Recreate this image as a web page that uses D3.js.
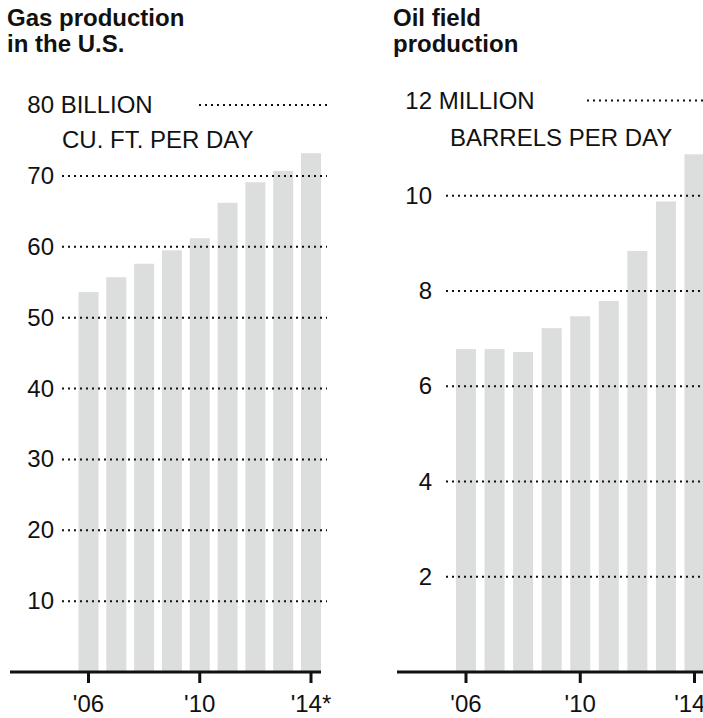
<!DOCTYPE html>
<html lang="en">
<head>
  <meta charset="UTF-8">
  <title>Gas and oil production</title>
  <style>
    body, html {
      margin: 0;
      padding: 0;
      background-color: white;
    }
    svg text {
      font-family: "Liberation Sans", Arial, Helvetica, sans-serif;
      fill: #111;
    }
  </style>
</head>
<body>
  <svg id="svg" width="703" height="718"></svg>
  <script src="https://d3js.org/d3.v7.min.js"></script>
  <script>
    // years shown as bars
    const years = [2006, 2007, 2008, 2009, 2010, 2011, 2012, 2013, 2014]
    const xTickYears = [2006, 2010, 2014]
    const xTickLabels = ["'06", "'10", "'14*"]

    // gas, billion cu. ft. per day
    const gasValues = [53.6, 55.7, 57.6, 59.5, 61.2, 66.2, 69.1, 70.7, 73.2]
    const gasTicks = [10, 20, 30, 40, 50, 60, 70, 80]

    // oil, million barrels per day
    const oilValues = [6.78, 6.78, 6.72, 7.22, 7.47, 7.79, 8.84, 9.88, 10.87]
    const oilTicks = [2, 4, 6, 8, 10, 12]

    const svg = d3.select('#svg')

    const drawPanel = (p) => {
      const g = svg.append('g')

      const x = d3.scaleLinear().domain([2006, 2014]).range(p.xRange)
      const y = d3.scaleLinear().domain([0, p.yMax]).range([672, p.yTop])

      // title, two lines
      g.append('text')
        .attr('x', p.titleX)
        .attr('y', 26)
        .style('font-weight', 'bold')
        .style('font-size', '24px')
        .selectAll('tspan')
        .data(p.title)
        .enter()
        .append('tspan')
        .attr('x', p.titleX)
        .attr('dy', (d, i) => i === 0 ? 0 : 26)
        .text(d => d)

      // bars
      g.selectAll('rect')
        .data(p.values)
        .enter()
        .append('rect')
        .attr('x', (d, i) => x(years[i]) - 10)
        .attr('width', 20)
        .attr('y', d => y(d))
        .attr('height', d => y(0) - y(d))
        .attr('fill', '#dcdddd')

      // dotted gridlines (on top of bars)
      const top = p.ticks[p.ticks.length - 1]
      g.selectAll('line.grid')
        .data(p.ticks)
        .enter()
        .append('line')
        .attr('class', 'grid')
        .attr('x1', d => d === top ? p.topGridStart : p.gridStart)
        .attr('x2', p.gridEnd)
        .attr('y1', d => y(d))
        .attr('y2', d => y(d))
        .attr('stroke', '#111')
        .attr('stroke-width', 2)
        .attr('stroke-dasharray', '2,4')

      // tick labels
      g.selectAll('text.tick')
        .data(p.ticks)
        .enter()
        .append('text')
        .attr('class', 'tick')
        .attr('x', p.labelRight)
        .attr('y', d => y(d) + 8)
        .attr('text-anchor', 'end')
        .style('font-size', '24px')
        .text(d => d)

      // top number gets the unit word after it
      const topLabel = g.selectAll('text.tick').filter(d => d === top)
      const w = topLabel.node().getComputedTextLength()
      topLabel.attr('text-anchor', 'start')
        .attr('x', p.labelRight - w)
        .text(top + ' ' + p.unit1)

      g.append('text')
        .attr('x', p.unit2X)
        .attr('y', p.unit2Y)
        .style('font-size', '24px')
        .text(p.unit2)

      // baseline
      g.append('line')
        .attr('x1', p.axisStart)
        .attr('x2', p.axisEnd)
        .attr('y1', 672)
        .attr('y2', 672)
        .attr('stroke', '#111')
        .attr('stroke-width', 3)

      g.selectAll('line.xtick')
        .data(xTickYears)
        .enter()
        .append('line')
        .attr('class', 'xtick')
        .attr('x1', d => x(d))
        .attr('x2', d => x(d))
        .attr('y1', 672)
        .attr('y2', 683)
        .attr('stroke', '#111')
        .attr('stroke-width', 3)

      g.selectAll('text.xlabel')
        .data(xTickYears)
        .enter()
        .append('text')
        .attr('class', 'xlabel')
        .attr('x', d => x(d))
        .attr('y', 712)
        .attr('text-anchor', 'middle')
        .style('font-size', '24px')
        .text((d, i) => xTickLabels[i])
    }

    drawPanel({
      title: ['Gas production', 'in the U.S.'],
      titleX: 7,
      values: gasValues,
      ticks: gasTicks,
      yMax: 80,
      yTop: 105,
      xRange: [88.5, 311],
      gridStart: 62,
      topGridStart: 199,
      gridEnd: 327,
      labelRight: 54,
      unit1: 'BILLION',
      unit2: 'CU. FT. PER DAY',
      unit2X: 62,
      unit2Y: 148,
      axisStart: 10,
      axisEnd: 321
    })

    drawPanel({
      title: ['Oil field', 'production'],
      titleX: 393,
      values: oilValues,
      ticks: oilTicks,
      yMax: 12,
      yTop: 100.5,
      xRange: [466, 694.5],
      gridStart: 446,
      topGridStart: 587,
      gridEnd: 703,
      labelRight: 432,
      unit1: 'MILLION',
      unit2: 'BARRELS PER DAY',
      unit2X: 450,
      unit2Y: 146,
      axisStart: 397,
      axisEnd: 703
    })
  </script>
</body>
</html>
